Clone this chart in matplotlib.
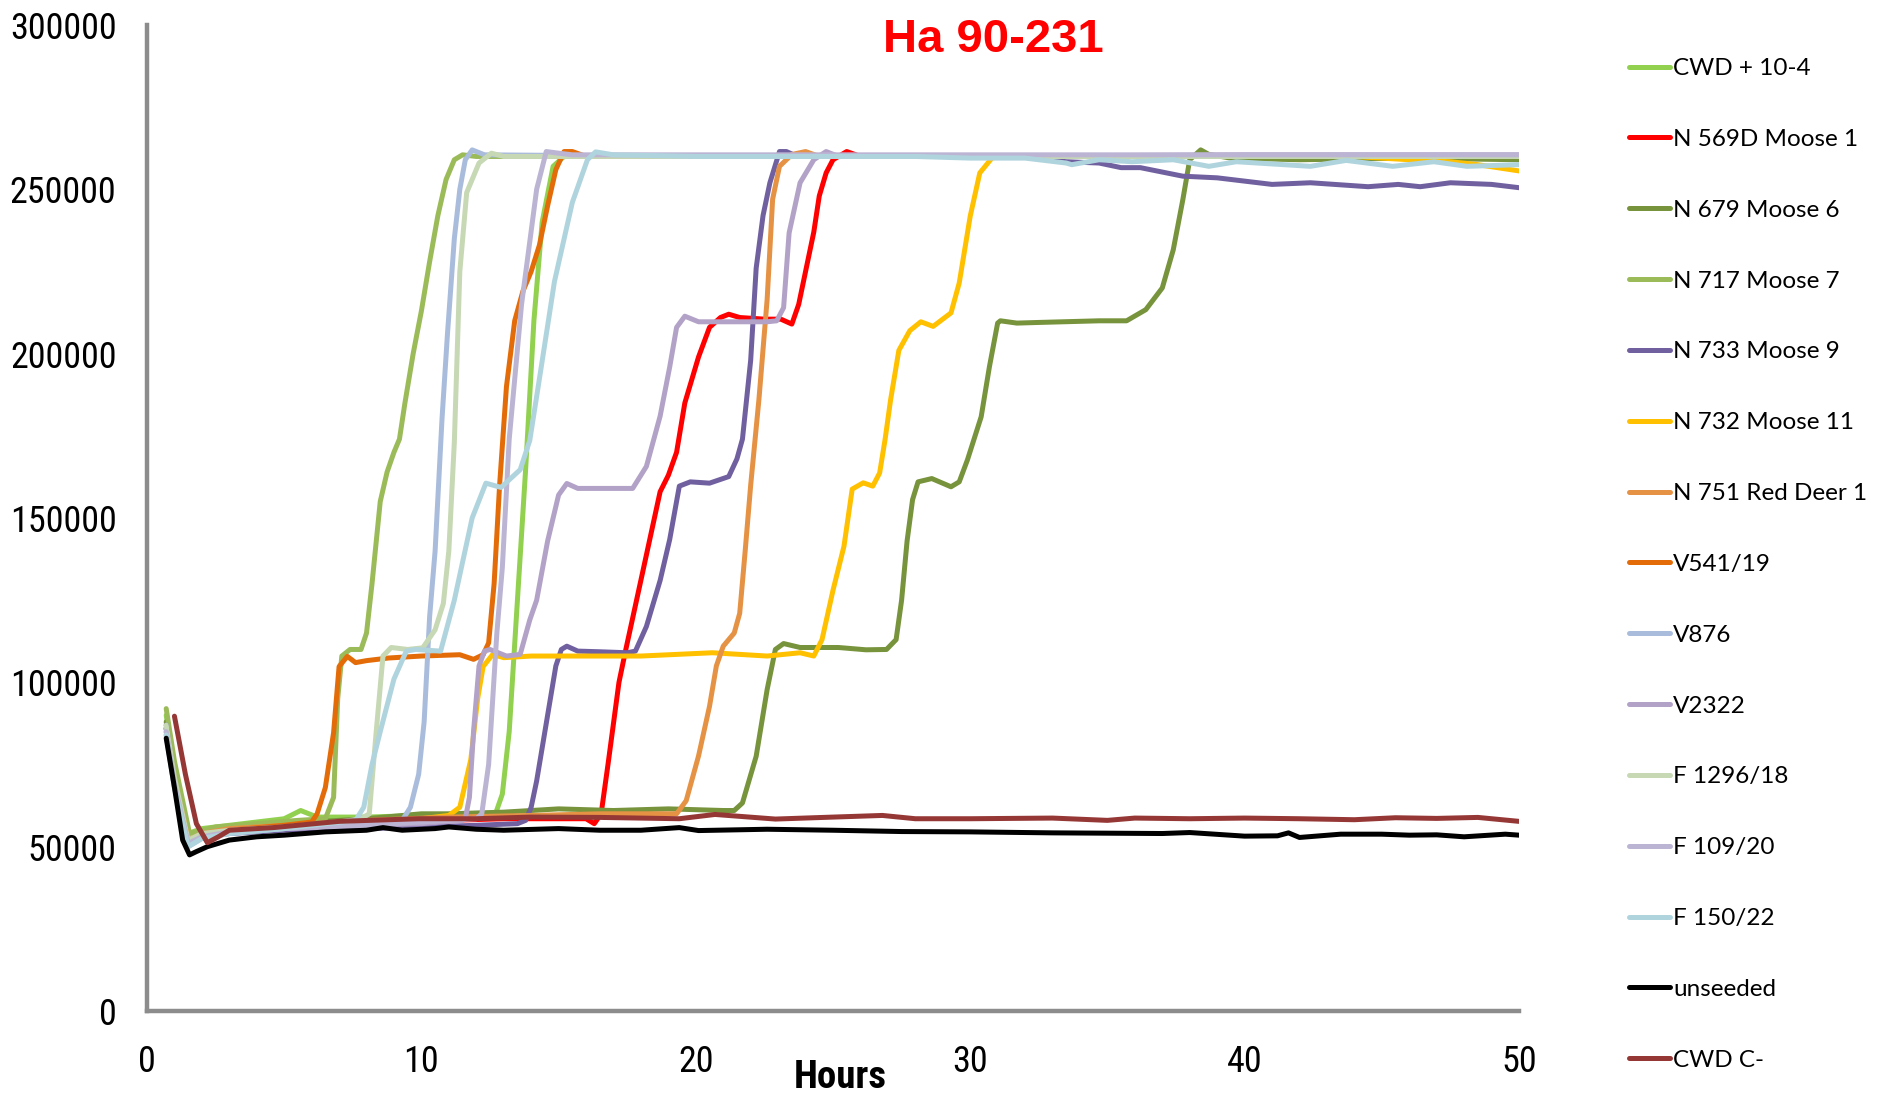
import matplotlib
matplotlib.use("Agg")
import matplotlib.pyplot as plt
from matplotlib import font_manager

# ---------------- data (y values in thousands) ----------------
labels = ["CWD + 10-4", "N 569D Moose 1", "N 679 Moose 6", "N 717 Moose 7",
          "N 733 Moose 9", "N 732 Moose 11", "N 751 Red Deer 1", "V541/19",
          "V876", "V2322", "F 1296/18", "F 109/20", "F 150/22", "unseeded", "CWD C-"]

cwd_pos_x = [0.7, 1.0, 1.5, 2.0, 3.0, 4.0, 5.0, 5.6, 6.2, 8.0, 10.0, 12.0, 12.7, 12.95, 13.2, 13.5, 13.8, 14.1, 14.4, 14.8, 15.2, 20, 30, 40, 50]
cwd_pos_y = [90, 74, 54, 55.5, 56.5, 57.5, 58.5, 61, 59, 59, 59.5, 59.5, 60, 66, 85, 125, 165, 210, 240, 257, 260, 260, 260, 260, 260]

m1_x = [0.7, 1.0, 1.5, 2.0, 3, 5, 8, 11, 13, 15, 16.0, 16.3, 16.55, 16.8, 17.2, 17.45, 18.05, 18.7, 19.0, 19.3, 19.6, 20.1, 20.5, 20.9, 21.2, 21.6, 22.5, 23.1, 23.5, 23.75, 24.0, 24.3, 24.5, 24.75, 25.0, 25.5, 26.0, 30, 40, 50]
m1_y = [86, 70, 52, 53.5, 55, 56, 57.5, 58, 58.5, 58.5, 58.5, 57, 60, 75, 100, 110, 133, 158, 163, 170, 185, 199, 208, 211, 212, 211, 210.5, 210.5, 209, 215, 225, 237, 248, 255, 259, 261.5, 260, 260, 260, 260]

m6_x = [0.7, 1.0, 1.5, 2, 3, 5, 8, 10, 11, 13, 15, 17, 19, 21, 21.4, 21.7, 22.2, 22.6, 22.9, 23.2, 23.8, 25.2, 26.2, 26.95, 27.3, 27.5, 27.7, 27.9, 28.1, 28.6, 29.3, 29.6, 29.9, 30.4, 30.7, 31.0, 31.1, 31.7, 32.5, 34.7, 35.7, 36.4, 37.0, 37.4, 37.75, 38.0, 38.4, 38.7, 39.5, 42, 46, 50]
m6_y = [88, 72, 52, 54, 55.5, 57, 58.5, 60, 60, 60.5, 61.5, 61, 61.5, 61, 61, 63.3, 77.5, 97.8, 110, 111.8, 110.6, 110.6, 109.9, 110, 113, 125, 143, 155.6, 161, 162, 159.5, 161, 167.7, 180.8, 196, 209.3, 210, 209.3, 209.5, 210, 210, 213.4, 220, 231.6, 246.9, 259, 262, 260.6, 259.5, 259, 259.5, 259]

m7_x = [0.7, 1.0, 1.55, 2.5, 4, 5.5, 6.5, 6.8, 6.95, 7.1, 7.4, 7.8, 8.0, 8.2, 8.5, 8.75, 9.0, 9.2, 9.4, 9.7, 10.0, 10.3, 10.6, 10.9, 11.2, 11.5, 12.0, 20, 30, 40, 50]
m7_y = [92, 76, 54, 56, 57, 58, 58.5, 65, 95, 108, 110, 110, 115, 130, 155, 164, 170, 174, 185, 200, 213, 228, 242, 253, 259, 260.5, 260, 260, 260, 260, 260]

m9_x = [0.7, 1.0, 1.5, 2, 3, 5, 8, 10, 12, 13.5, 13.8, 14.0, 14.2, 14.5, 14.7, 14.9, 15.1, 15.3, 15.7, 16.5, 17.5, 17.8, 18.2, 18.7, 19.05, 19.4, 19.8, 20.5, 21.2, 21.5, 21.7, 21.85, 22.0, 22.2, 22.45, 22.7, 23.05, 23.3, 23.7, 28, 32, 33.5, 34.7, 35.5, 36.2, 37.75, 39.0, 41.0, 42.4, 44.5, 45.6, 46.4, 47.5, 49.0, 50]
m9_y = [87, 70, 51, 53, 54, 55, 55.5, 56, 56.5, 57, 58, 62, 70, 85, 95, 105, 110, 111, 109.5, 109.3, 109, 109.5, 117, 131, 143.5, 159.7, 161, 160.6, 162.6, 168, 174, 186, 198, 226, 242, 252, 261.5, 261.5, 260, 260, 260, 258.4, 258, 256.6, 256.6, 254, 253.5, 251.5, 252, 250.8, 251.5, 250.8, 252, 251.5, 250.5]

m11_x = [0.7, 1.0, 1.5, 2, 3, 5, 8, 10, 11.0, 11.4, 11.8, 12.05, 12.25, 12.6, 13, 14, 16.5, 18, 20.6, 22.6, 23.8, 24.3, 24.6, 25.0, 25.4, 25.7, 26.1, 26.45, 26.7, 26.9, 27.1, 27.4, 27.8, 28.2, 28.65, 29.3, 29.6, 30.0, 30.35, 30.8, 31.3, 35, 40, 44, 46, 47.5, 48.5, 50]
m11_y = [86, 70, 52, 53.5, 55, 56, 57.5, 58.5, 59.5, 62, 76.5, 95, 104.8, 108.5, 107.5, 108, 108, 108, 109, 108, 109, 108, 113, 128, 141.4, 158.8, 160.7, 159.7, 163.7, 174, 186, 201, 207, 209.7, 208.3, 212.4, 221.5, 241.8, 255, 259.6, 260, 260, 260, 260, 259, 258.4, 257.5, 255.6]

rd1_x = [0.7, 1.0, 1.5, 2, 3, 5, 8, 11, 14, 16.5, 19.3, 19.65, 20.1, 20.5, 20.75, 21.0, 21.4, 21.6, 21.8, 22.0, 22.3, 22.6, 22.8, 23.05, 23.5, 24.0, 24.5, 30, 40, 50]
rd1_y = [85, 70, 52, 54, 55.5, 56.5, 58, 59, 59.5, 60, 60, 64, 77.6, 92.7, 105, 111, 115, 121, 140, 160, 186, 216.5, 247, 257, 260.6, 261.5, 260, 260, 260, 260]

v541_x = [0.7, 1.0, 1.5, 2, 3, 5, 6.0, 6.2, 6.5, 6.8, 7.0, 7.3, 7.6, 8.0, 8.8, 10, 11.4, 11.9, 12.25, 12.45, 12.65, 12.85, 13.1, 13.4, 13.7, 14.0, 14.3, 14.6, 14.9, 15.2, 15.5, 16.0, 20, 30, 40, 50]
v541_y = [86, 70, 52, 53.5, 55, 56.5, 57.5, 60, 68, 84.7, 104.8, 107.9, 106, 106.6, 107.4, 108, 108.4, 107, 108.4, 112, 130, 160, 190, 210, 219, 225, 233, 245, 256, 261.5, 261.5, 260, 260, 260, 260, 260]

v876_x = [0.7, 1.0, 1.5, 2, 3, 5, 8, 9.0, 9.3, 9.6, 9.9, 10.1, 10.3, 10.5, 10.75, 10.95, 11.2, 11.4, 11.6, 11.85, 12.3, 20, 50]
v876_y = [84, 68, 50, 52.5, 54, 55.5, 57, 57.5, 58, 62, 72, 88, 120, 140, 180, 206, 235, 250, 259, 262, 260.5, 260, 260]

v2322_x = [0.7, 1.0, 1.5, 2, 3, 5, 8, 10, 11.5, 11.6, 11.75, 11.9, 12.1, 12.3, 12.5, 13.1, 13.6, 13.95, 14.2, 14.6, 15.0, 15.3, 15.7, 16.5, 17.7, 18.2, 18.7, 19.05, 19.3, 19.6, 20.1, 22.6, 22.95, 23.2, 23.4, 23.8, 24.3, 24.75, 25.2, 30, 40, 50]
v2322_y = [86, 70, 51, 53, 54.5, 55.5, 56.5, 57, 58, 58.5, 65, 85, 105, 109.5, 110, 108, 108.5, 119, 125, 143, 157, 160.5, 159, 159, 159, 165.7, 181, 196, 208, 211.4, 209.7, 209.7, 210, 214, 236.7, 252, 259, 261.5, 260, 260, 260.5, 260.5]

f1296_x = [0.7, 1.0, 1.5, 2, 3, 5, 7, 7.8, 8.1, 8.35, 8.6, 8.9, 9.5, 10.05, 10.5, 10.8, 11.0, 11.2, 11.4, 11.65, 12.1, 12.55, 13, 50]
f1296_y = [87, 71, 52, 54, 55, 56, 57.5, 58.5, 60, 84.7, 108, 110.6, 110, 110.5, 116, 124, 140, 173, 225, 249, 258, 261, 260, 260]

f109_x = [0.7, 1.0, 1.5, 2, 3, 5, 8, 10, 12.0, 12.2, 12.45, 12.6, 12.75, 12.95, 13.2, 13.65, 14.2, 14.55, 15.0, 15.5, 30, 50]
f109_y = [85, 69, 51, 53, 54.5, 55.5, 56.5, 57.5, 58.5, 60, 75, 95, 115, 135, 174, 215, 250, 261.5, 261, 260.5, 260.5, 260.5]

f150_x = [0.7, 1.0, 1.5, 2, 3, 5, 7.6, 7.9, 8.2, 8.5, 9.0, 9.45, 9.8, 10.7, 11.2, 11.85, 12.35, 12.9, 13.6, 13.95, 14.35, 14.85, 15.5, 16.05, 16.35, 17, 20, 28, 30, 32, 33.5, 33.7, 34.7, 35.9, 37.4, 38.7, 39.7, 42.4, 43.7, 45.4, 46.9, 48.1, 50]
f150_y = [84, 68, 50, 52.5, 54, 55.5, 58, 62, 75, 85, 101, 109.5, 110, 109.5, 125, 150, 160.6, 159.3, 164.7, 173.6, 195, 222, 246, 259, 261.4, 260.5, 260, 260, 259.5, 259.5, 258, 257.5, 259, 258.4, 259, 257, 258.4, 257, 258.8, 257, 258.4, 257, 257.5]

unseeded_x = [0.7, 1.0, 1.3, 1.55, 1.8, 2.2, 3, 4, 5, 6.5, 8, 8.6, 9.3, 10.5, 11, 12, 13, 15, 16.5, 18, 19.4, 20.1, 22.6, 25, 27.5, 30, 33, 37, 38, 40, 41.2, 41.6, 42, 43.5, 45, 46, 47, 48, 49.5, 50]
unseeded_y = [83, 68, 52, 47.5, 48.5, 50, 52, 53, 53.5, 54.5, 55, 55.8, 55, 55.5, 56, 55.3, 55, 55.5, 55, 55, 55.8, 54.9, 55.3, 55, 54.6, 54.5, 54.2, 54, 54.3, 53.2, 53.3, 54.2, 52.8, 53.8, 53.8, 53.5, 53.6, 53, 53.8, 53.5]

cwd_neg_x = [1.0, 1.4, 1.8, 2.2, 2.6, 3.0, 4.6, 7.0, 9.9, 12, 14, 16.5, 19.4, 20.7, 22.9, 25, 26.8, 28, 30, 33, 35, 36, 38, 40, 42, 44, 45.5, 47, 48.5, 50]
cwd_neg_y = [89.7, 72, 57, 51.2, 53, 55, 55.8, 57.7, 58.5, 58.5, 59, 58.9, 58.5, 59.8, 58.4, 59, 59.5, 58.5, 58.5, 58.7, 58, 58.7, 58.5, 58.7, 58.5, 58.2, 58.8, 58.6, 58.9, 57.7]

series_x = [cwd_pos_x, m1_x, m6_x, m7_x, m9_x, m11_x, rd1_x, v541_x,
            v876_x, v2322_x, f1296_x, f109_x, f150_x, unseeded_x, cwd_neg_x]
series_y = [cwd_pos_y, m1_y, m6_y, m7_y, m9_y, m11_y, rd1_y, v541_y,
            v876_y, v2322_y, f1296_y, f109_y, f150_y, unseeded_y, cwd_neg_y]

colors = ["#92D050", "#FF0000", "#77933C", "#9BBB59", "#7060A0", "#FFC000",
          "#E59245", "#E36C09", "#A9BCDC", "#B3A2C7", "#C6D8B4", "#BCB4D3",
          "#B0D4DE", "#000000", "#953735"]

x_ticks = [0, 10, 20, 30, 40, 50]
y_ticks = [0, 50000, 100000, 150000, 200000, 250000, 300000]

# ---------------- fonts ----------------
names = {f.name for f in font_manager.fontManager.ttflist}
def pick(*cands):
    for c in cands:
        if c in names:
            return c
    return "DejaVu Sans"

tick_font = pick("Liberation Sans Narrow", "Roboto Condensed", "Roboto", "Liberation Sans")
title_font = pick("Liberation Sans", "Arial", "DejaVu Sans")
legend_font = pick("Lato", "Open Sans", "Noto Sans")

# ---------------- figure ----------------
W, H = 1881, 1098
fig = plt.figure(figsize=(W / 100, H / 100), dpi=100)
ax = fig.add_axes([147 / W, 1 - 1011 / H, (1519 - 147) / W, (1011 - 25) / H])

handles = []
for xs, ys, c, lab in zip(series_x, series_y, colors, labels):
    ln, = ax.plot(xs, [v * 1000 for v in ys], color=c, lw=3.6, label=lab,
                  solid_joinstyle="round", solid_capstyle="round")
    handles.append(ln)

ax.set_xlim(0, 50)
ax.set_ylim(0, 300000)
ax.set_xticks(x_ticks)
ax.set_yticks(y_ticks)
ax.set_xticklabels([str(t) for t in x_ticks], fontfamily=tick_font, fontsize=26)
ax.set_yticklabels([str(t) for t in y_ticks], fontfamily=tick_font, fontsize=26)
ax.tick_params(length=0)
ax.tick_params(axis="y", pad=22)
ax.tick_params(axis="x", pad=24)

for s in ["top", "right"]:
    ax.spines[s].set_visible(False)
for s in ["left", "bottom"]:
    ax.spines[s].set_color("#8C8C8C")
    ax.spines[s].set_linewidth(3.2)

fig.text(993 / W, 1 - 40 / H, "Ha 90-231", color="#FF0000", fontsize=34,
         fontweight="bold", fontfamily=title_font, ha="center", va="center")
fig.text(840 / W, 1 - 1077 / H, "Hours", color="black", fontsize=28,
         fontweight="bold", fontfamily=tick_font, ha="center", va="center")

leg = fig.legend(handles=handles, labels=labels, loc="upper left",
                 bbox_to_anchor=(1629 / W, 1 - 58 / H), frameon=False,
                 prop={"family": legend_font, "size": 17.5},
                 handlelength=1.7, handletextpad=0.12, labelspacing=2.05,
                 borderpad=0, borderaxespad=0)
for l in leg.get_lines():
    l.set_linewidth(3.6)

fig.savefig("out.png", dpi=100)
